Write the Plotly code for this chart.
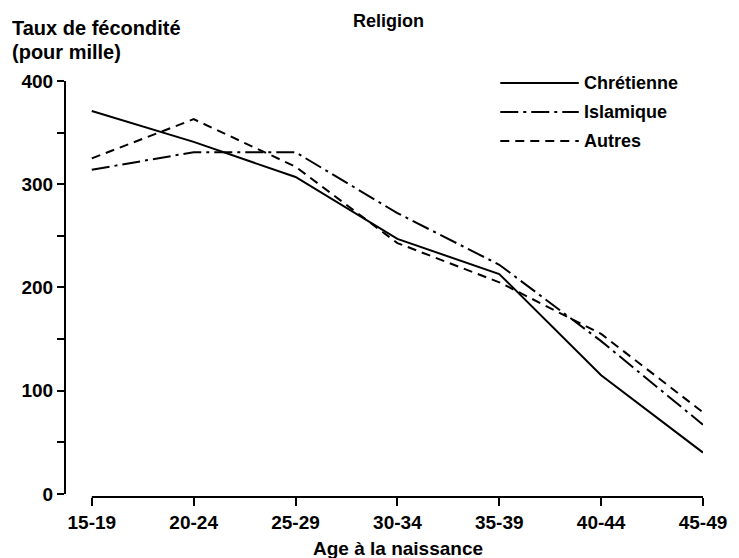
import plotly.graph_objects as go

# Age groups and fertility rates (per thousand) by religion
age_groups = ["15-19", "20-24", "25-29", "30-34", "35-39", "40-44", "45-49"]
chretienne = [371, 341, 307, 247, 213, 115, 40]
islamique = [314, 331, 331, 272, 222, 148, 67]
autres = [325, 363, 317, 243, 205, 155, 79]

series_names = ["Chrétienne", "Islamique", "Autres"]
series_values = [chretienne, islamique, autres]
series_dash = ["solid", "18px,5px,3px,5px", "9px,6px"]

y_ticks = [0, 100, 200, 300, 400]
y_minor = [50, 150, 250, 350]

FONT = "Liberation Sans, Arial, Helvetica, sans-serif"
W, H = 739, 558
ML, MR, MT, MB = 65, 32, 81, 61
PW, PH = W - ML - MR, H - MT - MB


def px_x(p):
    return (p - ML) / PW


def px_y(p):
    return (H - MB - p) / PH


def bold(s):
    return "<b>%s</b>" % s


fig = go.Figure()
xi = list(range(len(age_groups)))
for name, vals, dash in zip(series_names, series_values, series_dash):
    fig.add_trace(go.Scatter(
        x=xi, y=vals, mode="lines", name=name,
        line=dict(color="black", width=2, dash=dash),
        showlegend=False,
    ))

shapes = [
    # y axis line from 0 to 400
    dict(type="line", xref="paper", yref="y", x0=0, x1=0, y0=0, y1=400,
         line=dict(color="black", width=2)),
    # x axis line spanning the age groups
    dict(type="line", xref="x", yref="paper", x0=0, x1=len(age_groups) - 1,
         y0=0, y1=0, line=dict(color="black", width=2)),
]

annotations = []
# Legend: line samples with labels at the upper right
leg_y = [83, 112, 141]
for name, dash, ly in zip(series_names, series_dash, leg_y):
    shapes.append(dict(type="line", xref="paper", yref="paper",
                       x0=px_x(503), x1=px_x(582), y0=px_y(ly), y1=px_y(ly),
                       line=dict(color="black", width=2, dash=dash)))
    annotations.append(dict(xref="paper", yref="paper", x=px_x(585), y=px_y(ly),
                            xanchor="left", yanchor="middle", showarrow=False,
                            text=bold(name),
                            font=dict(family=FONT, size=18, color="black")))

annotations += [
    dict(xref="paper", yref="paper", x=px_x(391), y=px_y(21), xanchor="center",
         yanchor="middle", showarrow=False, text=bold("Religion"),
         font=dict(family=FONT, size=18, color="black")),
    dict(xref="paper", yref="paper", x=px_x(10), y=px_y(28), xanchor="left",
         yanchor="middle", showarrow=False, text=bold("Taux de fécondité"),
         font=dict(family=FONT, size=20, color="black")),
    dict(xref="paper", yref="paper", x=px_x(10), y=px_y(52), xanchor="left",
         yanchor="middle", showarrow=False, text=bold("(pour mille)"),
         font=dict(family=FONT, size=20, color="black")),
    dict(xref="paper", yref="paper", x=px_x(400), y=px_y(548), xanchor="center",
         yanchor="middle", showarrow=False, text=bold("Age à la naissance"),
         font=dict(family=FONT, size=19, color="black")),
]

fig.update_layout(
    width=W, height=H,
    margin=dict(l=ML, r=MR, t=MT, b=MB, pad=0),
    paper_bgcolor="white", plot_bgcolor="white",
    shapes=shapes, annotations=annotations,
    font=dict(family=FONT, color="black"),
)
fig.update_xaxes(
    range=[-0.263, len(age_groups) - 1],
    tickmode="array", tickvals=xi,
    ticktext=[bold(a) for a in age_groups],
    ticks="outside", ticklen=8, tickwidth=2, tickcolor="black",
    showline=False, showgrid=False, zeroline=False,
    tickfont=dict(family=FONT, size=19, color="black"),
)
fig.update_yaxes(
    range=[-3, 400],
    tickmode="array", tickvals=y_ticks,
    ticktext=[bold(v) for v in y_ticks],
    ticks="outside", ticklen=7, tickwidth=2, tickcolor="black",
    minor=dict(tickmode="array", tickvals=y_minor, ticks="outside",
               ticklen=7, tickwidth=2, tickcolor="black", showgrid=False),
    showline=False, showgrid=False, zeroline=False,
    tickfont=dict(family=FONT, size=19, color="black"),
)

fig.write_html("out.html")
